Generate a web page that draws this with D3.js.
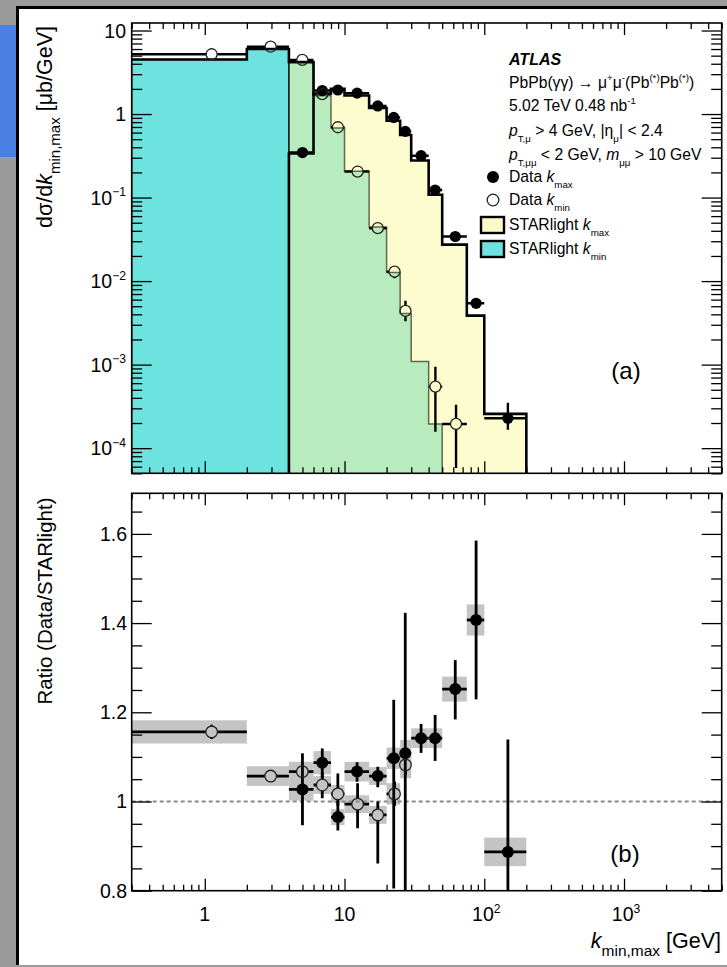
<!DOCTYPE html>
<html>
<head>
<meta charset="utf-8">
<script src="https://cdn.jsdelivr.net/npm/d3@7"></script>
<style>
  body { margin: 0; background: #9b9b9b; }
  svg { display: block; font-family: "Liberation Sans", Arial, sans-serif; }
</style>
</head>
<body>
<svg id="chart" width="727" height="967"></svg>
<script>
// ---- STARlight histograms ----
const kminEdges = [0.3, 2, 4, 6, 8, 10, 15, 20, 25, 30, 40, 50];
const kminStar  = [4.5, 6.0, 4.18, 1.66, 0.68, 0.206, 0.0443, 0.0127, 0.0041, 0.00109, 0.000195];
const kmaxEdges = [4, 6, 8, 10, 15, 20, 25, 30, 40, 50, 75, 100, 200];
const kmaxStar  = [0.337, 1.76, 2.01, 1.67, 1.18, 0.83, 0.56, 0.278, 0.108, 0.0273, 0.00386, 0.000257];

// ---- data k_min (open circles) ----
const dminX    = [1.12, 2.96, 4.99, 6.93, 8.96, 12.4, 17.3, 22.8, 27.3, 44.7, 62.8];
const dminBinLo = [0.3, 2, 4, 6, 8, 10, 15, 20, 25, 40, 50];
const dminBinHi = [2, 4, 6, 8, 10, 15, 20, 25, 30, 50, 75];
const dminY    = [5.2, 6.4, 4.45, 1.73, 0.695, 0.205, 0.043, 0.013, 0.0044, 0.000546, 0.000195];
const dminLo   = [5.0, 6.2, 4.3, 1.68, 0.67, 0.195, 0.040, 0.0108, 0.0033, 0.000157, 0.000058];
const dminHi   = [5.4, 6.6, 4.6, 1.78, 0.72, 0.215, 0.046, 0.0152, 0.0058, 0.00094, 0.00033];

// ---- data k_max (filled circles) ----
const dmaxX    = [5.0, 6.93, 8.96, 12.3, 17.3, 22.5, 27.2, 35.3, 44.5, 62.0, 87.4, 147.6];
const dmaxY    = [0.346, 1.91, 1.94, 1.78, 1.25, 0.91, 0.62, 0.317, 0.123, 0.0342, 0.00543, 0.000228];
const dmaxLo   = [0.335, 1.86, 1.89, 1.73, 1.21, 0.88, 0.60, 0.305, 0.117, 0.0318, 0.0047, 0.000166];
const dmaxHi   = [0.357, 1.96, 1.99, 1.83, 1.29, 0.94, 0.64, 0.329, 0.129, 0.0366, 0.0062, 0.00035];

// ---- ratio data/STARlight ----
const rMin    = [1.156, 1.057, 1.067, 1.037, 1.017, 0.994, 0.970, 1.017, 1.082];
const rMinLo  = [1.140, 1.045, 1.055, 1.007, 0.990, 0.940, 0.861, 0.990, 1.060];
const rMinHi  = [1.172, 1.070, 1.080, 1.065, 1.063, 1.041, 1.000, 1.045, 1.100];
const rMinSys = [0.026, 0.022, 0.022, 0.020, 0.020, 0.020, 0.020, 0.024, 0.030];
const rMax    = [1.027, 1.087, 0.965, 1.067, 1.057, 1.097, 1.108, 1.142, 1.142, 1.252, 1.407, 0.887];
const rMaxLo  = [0.947, 1.052, 0.935, 1.044, 1.032, 0.805, 0.790, 1.109, 1.091, 1.184, 1.229, 0.600];
const rMaxHi  = [1.108, 1.119, 1.000, 1.088, 1.078, 1.228, 1.423, 1.174, 1.194, 1.317, 1.585, 1.139];
const rMaxSys = [0.025, 0.026, 0.018, 0.022, 0.020, 0.024, 0.030, 0.022, 0.022, 0.028, 0.035, 0.032];

// ---- tick labels ----
const xTicks = [1, 10, 100, 1000];
const xTickBase = ["1", "10", "10", "10"];
const xTickExp = ["", "", "2", "3"];
const yTopTicks = [10, 1, 1e-1, 1e-2, 1e-3, 1e-4];
const yTopBase = ["10", "1", "10", "10", "10", "10"];
const yTopExp = ["", "", "\u22121", "\u22122", "\u22123", "\u22124"];
const yRatTicks = [0.8, 1.0, 1.2, 1.4, 1.6];
const yRatLabels = ["0.8", "1", "1.2", "1.4", "1.6"];

const L = 131.7, R = 721.7;
const topT = 23, topB = 473.3, ratT = 493.3, ratB = 890.7;

const x = d3.scaleLog().domain([0.3, 5000]).range([L, R]);
const yTop = d3.scaleLog().domain([5e-5, 12.3]).range([topB, topT]);
const yRat = d3.scaleLinear().domain([0.8, 1.691]).range([ratB, ratT]);

const svg = d3.select("#chart");
svg.append("rect").attr("width", 727).attr("height", 967).attr("fill", "#9b9b9b");
svg.append("rect").attr("x", 0).attr("y", 25).attr("width", 16).attr("height", 132).attr("fill", "#4b7fe3");
svg.append("rect").attr("x", 16).attr("y", 6).attr("width", 711).attr("height", 959).attr("fill", "#000");
svg.append("rect").attr("x", 19).attr("y", 9).attr("width", 708).attr("height", 956).attr("fill", "#fff");

const defs = svg.append("defs");
defs.append("clipPath").attr("id", "clipTop").append("rect")
  .attr("x", L).attr("y", topT).attr("width", R - L).attr("height", topB - topT);
defs.append("clipPath").attr("id", "clipRat").append("rect")
  .attr("x", L).attr("y", ratT).attr("width", R - L).attr("height", ratB - ratT);

// rich text helper: parts = [[text, "i sub sup b"]]
function rich(sel, parts, size, small = 0.62) {
  let shift = 0;
  parts.forEach(([t, s]) => {
    const st = (s || "").split(" ");
    const ts = sel.append("tspan").text(t);
    let target = 0;
    if (st.includes("sub")) target = size * 0.38;
    if (st.includes("sup")) target = -size * 0.42;
    ts.attr("dy", target - shift);
    shift = target;
    if (st.includes("sub") || st.includes("sup")) ts.attr("font-size", size * small);
    if (st.includes("i")) ts.attr("font-style", "italic");
    if (st.includes("b")) ts.attr("font-weight", "bold");
  });
  return sel;
}

// ================= TOP PANEL =================
const gTop = svg.append("g").attr("clip-path", "url(#clipTop)");

const kmaxBins = kmaxStar.map((v, i) => ({ lo: kmaxEdges[i], hi: kmaxEdges[i + 1], v }));
const kminBins = kminStar.map((v, i) => ({ lo: kminEdges[i], hi: kminEdges[i + 1], v }));

gTop.selectAll("rect.kmax").data(kmaxBins).join("rect")
  .attr("x", d => x(d.lo)).attr("width", d => x(d.hi) - x(d.lo))
  .attr("y", d => yTop(d.v)).attr("height", d => topB - yTop(d.v))
  .attr("fill", "#fcfcce").attr("shape-rendering", "crispEdges");

gTop.selectAll("rect.kmin").data(kminBins).join("rect")
  .attr("x", d => x(d.lo)).attr("width", d => x(d.hi) - x(d.lo))
  .attr("y", d => yTop(d.v)).attr("height", d => topB - yTop(d.v))
  .attr("fill", d => d.lo >= kmaxEdges[0] ? "#b8ecbe" : "#6de3e0")
  .attr("shape-rendering", "crispEdges");

function stepPoints(bins) {
  const pts = [[bins[0].lo, null]];
  bins.forEach(b => { pts.push([b.lo, b.v]); pts.push([b.hi, b.v]); });
  pts.push([bins[bins.length - 1].hi, null]);
  return pts;
}
const stepLine = d3.line().x(d => x(d[0])).y(d => d[1] === null ? topB + 5 : yTop(d[1]));

// k_min outline (thin, under yellow)
gTop.append("path").attr("d", stepLine(stepPoints(kminBins)))
  .attr("fill", "none").attr("stroke", "#5f6a4c").attr("stroke-width", 1.5);

// boundary where k_max range starts
const edgeBin = kminBins.find(b => b.lo === kmaxEdges[0]);
gTop.append("line").attr("x1", x(kmaxEdges[0])).attr("x2", x(kmaxEdges[0]))
  .attr("y1", yTop(edgeBin.v)).attr("y2", topB).attr("stroke", "#111").attr("stroke-width", 1.6);

// k_max outline
gTop.append("path").attr("d", stepLine(stepPoints(kmaxBins)))
  .attr("fill", "none").attr("stroke", "#000").attr("stroke-width", 2.6);

// k_min outline where it lies above k_max: thick black
const blackBins = kminBins.filter(b => {
  const m = kmaxBins.find(k => k.lo === b.lo);
  return !m || m.v < b.v;
});
{
  const pts = [];
  blackBins.forEach(b => { pts.push([b.lo, b.v]); pts.push([b.hi, b.v]); });
  const last = blackBins[blackBins.length - 1];
  const next = kminBins.find(b => b.lo === last.hi);
  if (next) pts.push([last.hi, next.v]);
  gTop.append("path").attr("d", stepLine(pts))
    .attr("fill", "none").attr("stroke", "#000").attr("stroke-width", 2.6);
}

// error bars with a gap at the marker
function errBars(g, xs, ys, los, his, blo, bhi, sx, sy, r, w) {
  xs.forEach((xv, i) => {
    const cx = sx(xv), cy = sy(ys[i]);
    const segs = [
      [cx, sy(his[i]), cx, cy - r],
      [cx, cy + r, cx, sy(los[i])],
      [sx(blo[i]), cy, cx - r, cy],
      [cx + r, cy, sx(bhi[i]), cy]
    ];
    segs.forEach(s => {
      if (Math.abs(s[2] - s[0]) + Math.abs(s[3] - s[1]) < 0.5) return;
      if (s[3] < s[1] || s[2] < s[0]) return;
      g.append("line").attr("x1", s[0]).attr("y1", s[1]).attr("x2", s[2]).attr("y2", s[3])
        .attr("stroke", "#000").attr("stroke-width", w);
    });
  });
}

const dmaxBinLo = kmaxEdges.slice(0, -1), dmaxBinHi = kmaxEdges.slice(1);
errBars(gTop, dminX, dminY, dminLo, dminHi, dminBinLo, dminBinHi, x, yTop, 5.5, 2.4);
errBars(gTop, dmaxX, dmaxY, dmaxLo, dmaxHi, dmaxBinLo, dmaxBinHi, x, yTop, 0, 2.4);

gTop.selectAll("circle.dmax").data(dmaxX).join("circle")
  .attr("cx", d => x(d)).attr("cy", (d, i) => yTop(dmaxY[i])).attr("r", 5.6).attr("fill", "#000");
gTop.selectAll("circle.dmin").data(dminX).join("circle")
  .attr("cx", d => x(d)).attr("cy", (d, i) => yTop(dminY[i])).attr("r", 5.5)
  .attr("fill", "none").attr("stroke", "#222").attr("stroke-width", 1.3);

// ================= RATIO PANEL =================
const gRat = svg.append("g").attr("clip-path", "url(#clipRat)");
const dminRatLo = dminBinLo.slice(0, rMin.length), dminRatHi = dminBinHi.slice(0, rMin.length);
const rMinX = dminX.slice(0, rMin.length);

function sysBoxes(rs, sys, lo, hi) {
  gRat.selectAll(null).data(rs).join("rect")
    .attr("x", (d, i) => x(lo[i])).attr("width", (d, i) => x(hi[i]) - x(lo[i]))
    .attr("y", (d, i) => yRat(d + sys[i])).attr("height", (d, i) => yRat(d - sys[i]) - yRat(d + sys[i]))
    .attr("fill", "#c4c4c4");
}
sysBoxes(rMax, rMaxSys, dmaxBinLo, dmaxBinHi);
sysBoxes(rMin, rMinSys, dminRatLo, dminRatHi);

gRat.append("line").attr("x1", L).attr("x2", R).attr("y1", yRat(1)).attr("y2", yRat(1))
  .attr("stroke", "#8a8a8a").attr("stroke-width", 2).attr("stroke-dasharray", "4 3");

errBars(gRat, dmaxX, rMax, rMaxLo, rMaxHi, dmaxBinLo, dmaxBinHi, x, yRat, 0, 2.8);
errBars(gRat, rMinX, rMin, rMinLo, rMinHi, dminRatLo, dminRatHi, x, yRat, 5.8, 2.8);

gRat.selectAll("circle.rmax").data(rMax).join("circle")
  .attr("cx", (d, i) => x(dmaxX[i])).attr("cy", d => yRat(d)).attr("r", 6).attr("fill", "#000");
gRat.selectAll("circle.rmin").data(rMin).join("circle")
  .attr("cx", (d, i) => x(rMinX[i])).attr("cy", d => yRat(d)).attr("r", 5.8)
  .attr("fill", "none").attr("stroke", "#222").attr("stroke-width", 1.3);

// ================= AXES / TICKS =================
function ticks(axisFn, scale, values, len, tr) {
  svg.append("g").attr("transform", tr)
    .call(axisFn(scale).tickValues(values).tickSize(-len).tickFormat(""))
    .call(g => g.select(".domain").remove())
    .call(g => g.selectAll("line").attr("stroke", "#000").attr("stroke-width", 1.3));
}
const xMinor = [];
[0.1, 1, 10, 100, 1000].forEach(d => { for (let m = 2; m <= 9; m++) { const v = d * m; if (v >= 0.3 && v <= 5000) xMinor.push(v); } });
const yTopMinor = [];
[1e-5, 1e-4, 1e-3, 1e-2, 1e-1, 1].forEach(d => { for (let m = 2; m <= 9; m++) { const v = d * m; if (v >= 5e-5 && v <= 12.3) yTopMinor.push(v); } });
const yRatMinor = d3.range(0.85, 1.69, 0.05).filter(v => Math.abs(v * 5 - Math.round(v * 5)) > 1e-6);

[[topT, topB, yTop, yTopTicks, yTopMinor], [ratT, ratB, yRat, yRatTicks, yRatMinor]].forEach(([t, b, ys, maj, mnr]) => {
  ticks(d3.axisBottom, x, xTicks, 12, `translate(0,${b})`);
  ticks(d3.axisBottom, x, xMinor, 6, `translate(0,${b})`);
  ticks(d3.axisTop, x, xTicks, 12, `translate(0,${t})`);
  ticks(d3.axisTop, x, xMinor, 6, `translate(0,${t})`);
  ticks(d3.axisLeft, ys, maj, 20, `translate(${L},0)`);
  ticks(d3.axisLeft, ys, mnr, 10.5, `translate(${L},0)`);
  ticks(d3.axisRight, ys, maj, 20, `translate(${R},0)`);
  ticks(d3.axisRight, ys, mnr, 10.5, `translate(${R},0)`);
  svg.append("rect").attr("x", L).attr("y", t).attr("width", R - L).attr("height", b - t)
    .attr("fill", "none").attr("stroke", "#000").attr("stroke-width", 1.6);
});

// tick labels
const fs = 19.5;
yTopTicks.forEach((v, i) => {
  const t = svg.append("text").attr("x", 126).attr("y", yTop(v) + 7)
    .attr("text-anchor", "end").attr("font-size", fs);
  const parts = [[yTopBase[i], ""]];
  if (yTopExp[i]) parts.push([yTopExp[i], "sup"]);
  rich(t, parts, fs);
});
yRatTicks.forEach((v, i) => {
  svg.append("text").attr("x", 127).attr("y", yRat(v) + 7)
    .attr("text-anchor", "end").attr("font-size", fs).text(yRatLabels[i]);
});
xTicks.forEach((v, i) => {
  const t = svg.append("text").attr("x", x(v) + (xTickExp[i] ? 2 : 0)).attr("y", 921)
    .attr("text-anchor", "middle").attr("font-size", fs);
  const parts = [[xTickBase[i], ""]];
  if (xTickExp[i]) parts.push([xTickExp[i], "sup"]);
  rich(t, parts, fs);
});

// axis titles
rich(svg.append("text").attr("transform", "translate(52,127) rotate(-90)")
  .attr("text-anchor", "middle").attr("font-size", 21.5),
  [["d\u03c3/d", ""], ["k", "i"], ["min,max", "sub"], [" [\u03bcb/GeV]", ""]], 21.5, 0.7);
svg.append("text").attr("transform", "translate(52,601) rotate(-90)")
  .attr("text-anchor", "middle").attr("font-size", 20.5).text("Ratio (Data/STARlight)");
rich(svg.append("text").attr("x", 721).attr("y", 948).attr("text-anchor", "end").attr("font-size", 21.5),
  [["k", "i"], ["min,max", "sub"], [" [GeV]", ""]], 21.5, 0.72);

// panel labels
svg.append("text").attr("x", 626).attr("y", 379).attr("text-anchor", "middle")
  .attr("font-size", 24).text("(a)");
svg.append("text").attr("x", 625).attr("y", 862).attr("text-anchor", "middle")
  .attr("font-size", 24).text("(b)");

// ATLAS legend block
const lx = 509, lfs = 15.7;
svg.append("text").attr("x", lx).attr("y", 65).attr("font-size", 16)
  .attr("font-weight", "bold").attr("font-style", "italic").text("ATLAS");
rich(svg.append("text").attr("x", lx).attr("y", 88).attr("font-size", lfs),
  [["PbPb(\u03b3\u03b3) \u2192 \u03bc", ""], ["+", "sup"], ["\u03bc", ""], ["-", "sup"], ["(Pb", ""],
   ["(*)", "sup"], ["Pb", ""], ["(*)", "sup"], [")", ""]], lfs);
rich(svg.append("text").attr("x", lx).attr("y", 111).attr("font-size", lfs),
  [["5.02 TeV 0.48 nb", ""], ["-1", "sup"]], lfs);
rich(svg.append("text").attr("x", lx).attr("y", 136).attr("font-size", lfs),
  [["p", "i"], ["T,\u03bc", "sub"], [" > 4 GeV, |\u03b7", ""], ["\u03bc", "sub"], ["| < 2.4", ""]], lfs);
rich(svg.append("text").attr("x", lx).attr("y", 160).attr("font-size", lfs),
  [["p", "i"], ["T,\u03bc\u03bc", "sub"], [" < 2 GeV, ", ""], ["m", "i"], ["\u03bc\u03bc", "sub"], [" > 10 GeV", ""]], lfs);

svg.append("circle").attr("cx", 493).attr("cy", 177).attr("r", 6).attr("fill", "#000");
rich(svg.append("text").attr("x", lx).attr("y", 182).attr("font-size", lfs),
  [["Data ", ""], ["k", "i"], ["max", "sub"]], lfs);
svg.append("circle").attr("cx", 493).attr("cy", 200).attr("r", 5.8)
  .attr("fill", "none").attr("stroke", "#222").attr("stroke-width", 1.3);
rich(svg.append("text").attr("x", lx).attr("y", 205).attr("font-size", lfs),
  [["Data ", ""], ["k", "i"], ["min", "sub"]], lfs);
svg.append("rect").attr("x", 481).attr("y", 217).attr("width", 23).attr("height", 16)
  .attr("fill", "#fbf9c8").attr("stroke", "#000").attr("stroke-width", 2.4);
rich(svg.append("text").attr("x", lx).attr("y", 230).attr("font-size", lfs),
  [["STARlight ", ""], ["k", "i"], ["max", "sub"]], lfs);
svg.append("rect").attr("x", 481).attr("y", 241).attr("width", 23).attr("height", 16)
  .attr("fill", "#6de2e0").attr("stroke", "#000").attr("stroke-width", 2.4);
rich(svg.append("text").attr("x", lx).attr("y", 254).attr("font-size", lfs),
  [["STARlight ", ""], ["k", "i"], ["min", "sub"]], lfs);
</script>
</body>
</html>
